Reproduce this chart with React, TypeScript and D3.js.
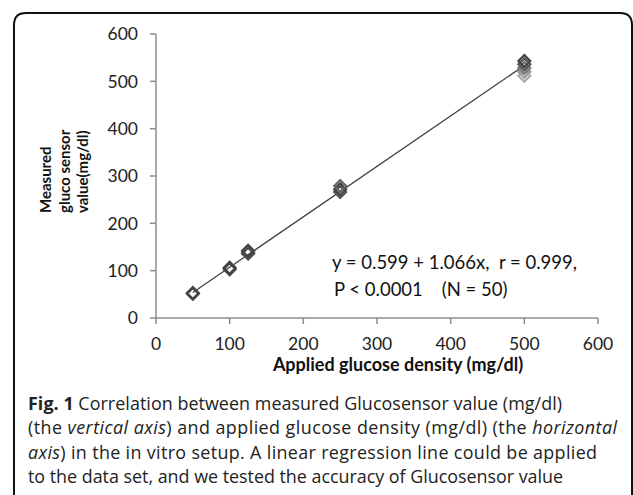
import React from 'react';
import * as d3 from 'd3';

// applied glucose density (mg/dl) and measured sensor value (mg/dl)
const appliedX = [50, 50, 100, 100, 125, 125, 125, 250, 250, 250, 500, 500, 500, 500, 500];
const measuredY = [51, 53, 103, 106, 136, 139, 142, 266, 272, 279, 512, 520, 528, 536, 543];
const pointShade = ['#444', '#444', '#444', '#444', '#444', '#555', '#444', '#555', '#444', '#666', '#aaa', '#999', '#777', '#555', '#444'];

const xTicks = [0, 100, 200, 300, 400, 500, 600];
const yTicks = [0, 100, 200, 300, 400, 500, 600];

const intercept = 0.599;
const slope = 1.066;
const fitRange = [50, 500];

const yTitleLines = ['Measured', 'gluco sensor', 'value(mg/dl)'];

const captionLines = [
  [{ t: 'Fig. 1', b: true }, { t: ' Correlation between measured Glucosensor value (mg/dl)' }],
  [{ t: '(the ' }, { t: 'vertical axis', i: true }, { t: ') and applied glucose density (mg/dl) (the ' }, { t: 'horizontal', i: true }],
  [{ t: 'axis', i: true }, { t: ') in the in vitro setup. A linear regression line could be applied' }],
  [{ t: 'to the data set, and we tested the accuracy of Glucosensor value' }],
];
// measured line widths in the reference, px
const captionWidths = [534, 589, 569, 535];

const W = 633;
const H = 495;

export default function App() {
  const x = d3.scaleLinear().domain([0, 600]).range([156, 598]);
  const y = d3.scaleLinear().domain([0, 600]).range([318, 34]);

  const fitLine = d3.line<number>()
    .x(d => x(d))
    .y(d => y(intercept + slope * d));

  const diamond = d3.symbol().type(d3.symbolDiamond2).size(90)();

  const axisColor = '#8c8c8c';
  const chartFont = 'Lato, "Open Sans", sans-serif';

  return (
    <svg width={W} height={H} style={{ position: 'absolute', left: 0, top: 0, background: '#fff' }}>
      {/* frame */}
      <path
        d={`M14,${H + 10} L14,25 Q14,13 26,13 L620,13 Q632,13 632,25 L632,${H + 10}`}
        fill="none" stroke="#111" strokeWidth={2}
      />

      {/* y axis */}
      <line x1={x(0)} x2={x(0)} y1={y(600)} y2={y(0)} stroke={axisColor} strokeWidth={1.5} />
      {yTicks.map(t => (
        <g key={'y' + t}>
          <line x1={x(0) - 6} x2={x(0)} y1={y(t)} y2={y(t)} stroke={axisColor} strokeWidth={1.5} />
          <text x={x(0) - 18} y={y(t)} dy="0.36em" textAnchor="end" fontFamily={chartFont} fontSize={17.5} fill="#222">{t}</text>
        </g>
      ))}

      {/* x axis */}
      <line x1={x(0)} x2={x(600)} y1={y(0)} y2={y(0)} stroke={axisColor} strokeWidth={1.5} />
      {xTicks.map(t => (
        <g key={'x' + t}>
          <line x1={x(t)} x2={x(t)} y1={y(0)} y2={y(0) + 6} stroke={axisColor} strokeWidth={1.5} />
          <text x={x(t)} y={y(0) + 32} textAnchor="middle" fontFamily={chartFont} fontSize={17.5} fill="#222">{t}</text>
        </g>
      ))}

      {/* axis titles */}
      <text x={398} y={371} textAnchor="middle" fontFamily={chartFont} fontWeight="bold" fontSize={18} fill="#111">
        Applied glucose density (mg/dl)
      </text>
      {yTitleLines.map((l, i) => (
        <text key={l} transform={`translate(${51 + i * 18.5},213) rotate(-90)`} textAnchor="start"
          fontFamily={chartFont} fontWeight="bold" fontSize={15} fill="#111">{l}</text>
      ))}

      {/* regression line */}
      <path d={fitLine(fitRange) || ''} fill="none" stroke="#444" strokeWidth={1.3} />

      {/* data points */}
      {appliedX.map((v, i) => (
        <path key={i} d={diamond || ''} transform={`translate(${x(v)},${y(measuredY[i])})`}
          fill="none" stroke={pointShade[i]} strokeWidth={2.2} />
      ))}

      {/* equation */}
      <text x={332} y={269} fontFamily={chartFont} fontSize={18.5} fill="#111" style={{ whiteSpace: 'pre' }}>
        {'y = 0.599 + 1.066x,  r = 0.999,'}
      </text>
      <text x={334} y={296} fontFamily={chartFont} fontSize={18.5} fill="#111" style={{ whiteSpace: 'pre' }}>
        {'P < 0.0001    (N = 50)'}
      </text>

      {/* caption */}
      {captionLines.map((line, i) => (
        <text key={i} x={28} y={410 + i * 24.4} fontFamily='"Open Sans", sans-serif' fontSize={17.9} fill="#222"
          textLength={captionWidths[i]} lengthAdjust="spacing" style={{ whiteSpace: 'pre' }}>
          {line.map((s: any, j) => (
            <tspan key={j} fontWeight={s.b ? 'bold' : 'normal'} fontStyle={s.i ? 'italic' : 'normal'}>{s.t}</tspan>
          ))}
        </text>
      ))}
    </svg>
  );
}
